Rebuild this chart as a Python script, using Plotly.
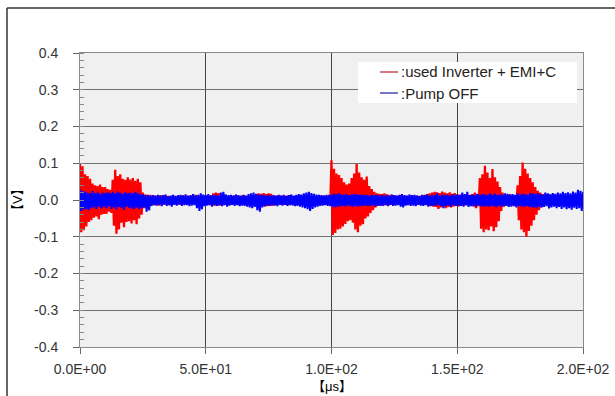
import numpy as np
import plotly.graph_objects as go

# Sample interval of the recorded waveforms [µs]
SAMPLE_US = 0.5

# Noise voltage with the inverter running (EMI filter + capacitor), in mV, 20 samples per 10 µs
red_mv = [
    100, -88, 92, -82, 70, -72, 65, -60, 58, -55, 45, -48, 40, -45, 38, -52, 42, -40, 35, -38,
    35, -38, 30, -32, 28, -35, 55, -70, 82, -92, 65, -80, 70, -62, 58, -74, 55, -60, 62, -58,
    56, -64, 60, -55, 52, -66, 58, -50, 48, -40, 20, -22, 15, -18, 13, -16, 14, -12, 11, -14,
    12, -14, 10, -15, 13, -11, 9, -13, 12, -10, 11, -14, 10, -12, 13, -11, 9, -12, 11, -13,
    10, -12, 13, -11, 9, -14, 12, -10, 11, -13, 10, -12, 14, -11, 12, -13, 10, -15, 11, -12,
    12, -13, 10, -14, 13, -12, 18, -16, 20, -15, 19, -14, 17, -16, 15, -13, 12, -14, 10, -12,
    11, -13, 12, -10, 13, -12, 10, -14, 12, -11, 13, -12, 11, -13, 10, -12, 12, -11, 13, -14,
    15, -14, 18, -16, 17, -15, 19, -18, 16, -17, 18, -15, 17, -16, 12, -13, 11, -12, 13, -11,
    12, -13, 10, -12, 11, -14, 13, -11, 12, -13, 10, -12, 11, -13, 12, -10, 13, -12, 11, -13,
    12, -14, 13, -12, 11, -13, 12, -11, 10, -12, 13, -14, 11, -12, 12, -13, 10, -12, 14, -11,
    108, -95, 85, -90, 72, -80, 68, -78, 60, -72, 48, -65, 42, -58, 45, -55, 60, -62, 72, -80,
    98, -88, 75, -70, 62, -66, 55, -50, 64, -45, 38, -35, 30, -28, 22, -20, 18, -16, 17, -15,
    16, -15, 18, -14, 15, -16, 14, -13, 12, -14, 13, -12, 11, -13, 12, -11, 13, -14, 12, -13,
    11, -13, 12, -10, 13, -12, 11, -14, 12, -11, 10, -13, 12, -12, 14, -13, 16, -15, 18, -17,
    20, -18, 22, -19, 21, -24, 19, -20, 23, -18, 20, -22, 18, -19, 21, -20, 17, -18, 19, -16,
    15, -17, 14, -16, 13, -15, 14, -13, 12, -14, 13, -15, 16, -18, 20, -22, 15, -17, 60, -78,
    70, -88, 93, -80, 75, -82, 60, -72, 84, -85, 62, -74, 50, -58, 35, -30, 20, -18, 15, -16,
    14, -15, 16, -13, 12, -16, 13, -15, 40, -55, 65, -80, 102, -88, 85, -100, 72, -84, 60, -70,
    48, -55, 35, -40, 25, -28, 20, -18, 16, -15, 14, -13, 16, -15, 13, -14, 15, -12, 14, -16,
    13, -15, 12, -14, 15, -13, 11, -16, 14, -12, 13, -15, 12, -14, 16, -13, 12, -15, 14, -12,
    10,
]

# Background noise voltage with the pump switched off, in mV
blue_mv = [
    28, -30, 24, -26, 22, -25, 20, -28, 18, -22, 24, -20, 19, -24, 21, -18, 17, -23, 20, -19,
    18, -22, 21, -17, 19, -24, 22, -20, 18, -25, 23, -19, 20, -22, 17, -26, 21, -18, 19, -21,
    20, -23, 18, -24, 22, -21, 19, -24, 17, -22, 15, -20, 13, -32, 14, -28, 11, -16, 13, -14,
    12, -15, 14, -13, 11, -17, 13, -12, 15, -16, 10, -14, 12, -18, 14, -13, 11, -15, 13, -12,
    14, -16, 12, -14, 15, -13, 11, -17, 13, -15, 16, -14, 12, -22, 14, -30, 18, -25, 15, -17,
    13, -15, 16, -14, 12, -18, 14, -13, 15, -16, 11, -15, 20, -17, 22, -14, 15, -18, 13, -15,
    14, -13, 12, -16, 15, -14, 13, -17, 11, -15, 14, -16, 12, -18, 16, -20, 18, -22, 20, -19,
    17, -28, 15, -32, 14, -20, 13, -17, 12, -15, 14, -16, 11, -14, 13, -15, 12, -17, 14, -13,
    12, -15, 14, -13, 11, -16, 13, -14, 15, -15, 12, -17, 14, -16, 16, -18, 15, -20, 18, -22,
    20, -25, 22, -30, 19, -24, 17, -20, 15, -18, 14, -16, 13, -15, 12, -14, 14, -16, 13, -17,
    15, -18, 17, -20, 16, -19, 18, -17, 15, -16, 14, -18, 16, -15, 13, -17, 15, -19, 17, -16,
    16, -18, 14, -17, 15, -16, 13, -15, 14, -17, 12, -16, 15, -14, 13, -18, 14, -15, 12, -16,
    13, -15, 12, -14, 14, -17, 11, -13, 15, -16, 13, -15, 12, -14, 14, -18, 16, -20, 13, -15,
    12, -14, 15, -16, 13, -15, 14, -17, 12, -13, 11, -15, 14, -16, 13, -14, 15, -18, 12, -15,
    14, -16, 13, -15, 18, -14, 12, -17, 15, -22, 13, -16, 14, -15, 12, -18, 16, -14, 13, -16,
    15, -17, 14, -16, 20, -18, 16, -15, 22, -19, 14, -17, 15, -16, 13, -18, 17, -15, 14, -17,
    16, -18, 15, -17, 14, -19, 18, -16, 15, -17, 17, -20, 14, -16, 16, -18, 15, -17, 18, -16,
    17, -19, 15, -18, 16, -17, 14, -20, 18, -16, 15, -18, 17, -19, 16, -17, 14, -18, 19, -20,
    18, -20, 16, -22, 19, -18, 17, -21, 15, -19, 20, -17, 18, -23, 16, -20, 19, -18, 17, -22,
    20, -19, 18, -24, 22, -20, 19, -25, 21, -22, 18, -26, 23, -21, 20, -24, 28, -22, 25, -30,
    22,
]

x_ticks = [0, 50, 100, 150, 200]
x_tick_labels = ["0.0E+00", "5.0E+01", "1.0E+02", "1.5E+02", "2.0E+02"]
y_ticks = [0.4, 0.3, 0.2, 0.1, 0.0, -0.1, -0.2, -0.3, -0.4]
y_tick_labels = ["0.4", "0.3", "0.2", "0.1", "0.0", "-0.1", "-0.2", "-0.3", "-0.4"]

series_names = [":used Inverter + EMI+C", ":Pump OFF"]
series_colors = ["#ff0000", "#0000ff"]
legend_colors = ["#d04848", "#4848b0"]

t_us = np.arange(len(red_mv)) * SAMPLE_US
red_v = np.array(red_mv) / 1000.0
blue_v = np.array(blue_mv) / 1000.0

FONT = "Liberation Sans, Arial, Noto Sans CJK JP, sans-serif"

fig = go.Figure()
fig.add_trace(go.Scatter(x=t_us, y=red_v, mode="lines", name=series_names[0],
                         line=dict(color=series_colors[0], width=2.3), showlegend=False))
fig.add_trace(go.Scatter(x=t_us, y=blue_v, mode="lines", name=series_names[1],
                         line=dict(color=series_colors[1], width=2.0), showlegend=False))

L, R, T, B = 80, 32, 53, 49
W, H = 615, 396
PW, PH = W - L - R, H - T - B


def px(xp):
    return (xp - L) / PW


def py(yp):
    return (H - B - yp) / PH


shapes = [
    # outer frame (left and top edges)
    dict(type="line", xref="paper", yref="paper", x0=px(7), x1=px(7), y0=py(8), y1=py(H + 5),
         line=dict(color="#333333", width=1.5)),
    dict(type="line", xref="paper", yref="paper", x0=px(7), x1=px(W + 5), y0=py(8), y1=py(8),
         line=dict(color="#333333", width=1.5)),
    # legend box
    dict(type="rect", xref="paper", yref="paper", x0=px(358), x1=px(577), y0=py(103), y1=py(62),
         fillcolor="white", line=dict(width=0), layer="above"),
]
annotations = []
for i, (name, col) in enumerate(zip(series_names, legend_colors)):
    yy = py(72 + 21 * i)
    shapes.append(dict(type="line", xref="paper", yref="paper", x0=px(380), x1=px(398),
                       y0=yy, y1=yy, line=dict(color=col, width=1.5), layer="above"))
    annotations.append(dict(xref="paper", yref="paper", x=px(399), y=yy, text=name,
                            showarrow=False, xanchor="left", yanchor="middle",
                            font=dict(family=FONT, size=15, color="#222222")))

annotations.append(dict(xref="paper", yref="paper", x=px(17), y=py(200), text="【V】",
                        textangle=-90, showarrow=False, xanchor="center", yanchor="middle",
                        font=dict(family=FONT, size=13, color="#000000")))
annotations.append(dict(xref="paper", yref="paper", x=px(332), y=py(386), text="【μs】",
                        showarrow=False, xanchor="center", yanchor="middle",
                        font=dict(family=FONT, size=13, color="#000000")))

fig.update_layout(
    width=W, height=H,
    margin=dict(l=L, r=R, t=T, b=B, pad=0),
    paper_bgcolor="white",
    plot_bgcolor="#f0f0f0",
    shapes=shapes,
    annotations=annotations,
    xaxis=dict(range=[0, 200], tickvals=x_ticks, ticktext=x_tick_labels,
               automargin=False,
               showgrid=True, gridcolor="#444444", gridwidth=1, zeroline=False,
               ticks="outside", ticklen=6, tickcolor="#666666",
               showline=True, linecolor="#8a8a8a", linewidth=1, mirror=True,
               ticklabelstandoff=3,
               tickfont=dict(family=FONT, size=14, color="#333333")),
    yaxis=dict(range=[-0.4, 0.4], tickvals=y_ticks, ticktext=y_tick_labels,
               automargin=False,
               showgrid=True, gridcolor="#707070", gridwidth=1, zeroline=False,
               ticks="outside", ticklen=6, tickcolor="#666666",
               showline=True, linecolor="#8a8a8a", linewidth=1, mirror=True,
               ticklabelstandoff=12,
               minor=dict(dtick=0.02, ticks="inside", ticklen=4, tickcolor="#888888",
                          showgrid=False),
               tickfont=dict(family=FONT, size=14, color="#333333")),
)

fig.write_html("out.html")
